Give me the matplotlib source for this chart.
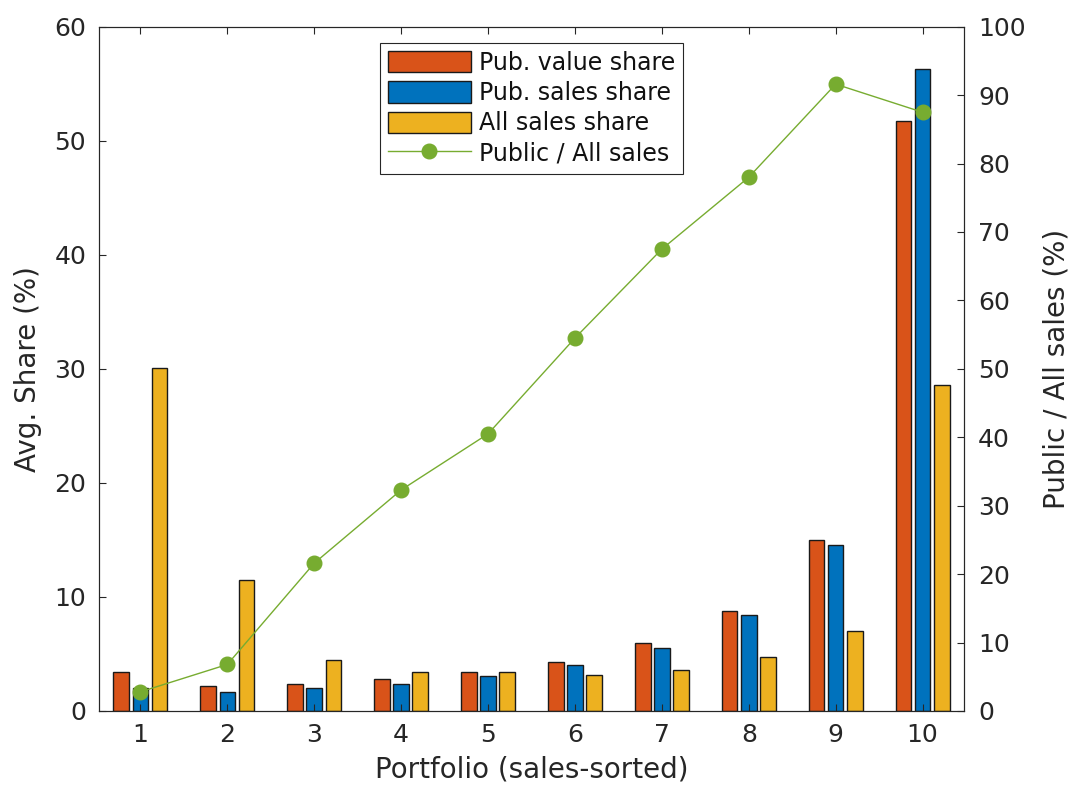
import matplotlib
matplotlib.use("Agg")
import matplotlib.pyplot as plt
import numpy as np

# Portfolio averages (sales-sorted deciles)
portfolios = np.arange(1, 11)
pub_value_share = [3.4, 2.2, 2.4, 2.8, 3.4, 4.3, 6.0, 8.8, 15.0, 51.7]
pub_sales_share = [2.0, 1.7, 2.0, 2.4, 3.1, 4.0, 5.5, 8.45, 14.55, 56.3]
all_sales_share = [30.1, 11.5, 4.45, 3.4, 3.4, 3.2, 3.6, 4.75, 7.0, 28.55]
public_to_all = [2.8, 6.8, 21.6, 32.3, 40.5, 54.5, 67.5, 78.0, 91.6, 87.5]

left_ticks = list(range(0, 61, 10))
right_ticks = list(range(0, 101, 10))

plt.rcParams["font.family"] = ["DejaVu Sans"]
ink = "#262626"

fig = plt.figure(figsize=(10.72, 7.89), dpi=100)
W, H = 1072, 789
x0, x1, y0, y1 = 98.7, 964.3, 26.7, 711.0
ax = fig.add_axes([x0 / W, 1 - y1 / H, (x1 - x0) / W, (y1 - y0) / H])

width, offset = 0.18, 0.22
edge = dict(edgecolor="#1a1a1a", linewidth=1.0)
b1 = ax.bar(portfolios - offset, pub_value_share, width, color="#D95319", **edge)
b2 = ax.bar(portfolios, pub_sales_share, width, color="#0072BD", **edge)
b3 = ax.bar(portfolios + offset, all_sales_share, width, color="#EDB120", **edge)

ax.set_xlim(0.52, 10.48)
ax.set_ylim(0, 60)
ax.set_xticks(portfolios)
ax.set_yticks(left_ticks)
ax.tick_params(direction="in", length=5, width=0.8, colors=ink, labelsize=18,
               top=True, right=False)
ax.tick_params(axis="x", pad=9)
ax.tick_params(axis="y", pad=9)
for s in ax.spines.values():
    s.set_color(ink)
    s.set_linewidth(0.8)
ax.set_xlabel("Portfolio (sales-sorted)", fontsize=20, color=ink, labelpad=6)
ax.set_ylabel("Avg. Share (%)", fontsize=20, color=ink, labelpad=9)

ax2 = ax.twinx()
ln, = ax2.plot(portfolios, public_to_all, "-o", color="#77AC30", lw=1.0,
               ms=10.5, zorder=3)
ax2.set_ylim(0, 100)
ax2.set_yticks(right_ticks)
ax2.tick_params(direction="in", length=5, width=0.8, colors=ink, labelsize=18,
                pad=10)
for s in ax2.spines.values():
    s.set_color(ink)
    s.set_linewidth(0.8)
ax2.set_ylabel("Public / All sales (%)", fontsize=20, color=ink, labelpad=12)

leg = ax2.legend([b1, b2, b3, ln],
                 ["Pub. value share", "Pub. sales share", "All sales share",
                  "Public / All sales"],
                 loc="upper center", bbox_to_anchor=(0.5, 1 - 16 / (y1 - y0)),
                 borderaxespad=0, fontsize=17, handlelength=3.5,
                 handleheight=1.0, labelspacing=0.26, handletextpad=0.35,
                 borderpad=0.35, fancybox=False, framealpha=1)
leg.get_frame().set_edgecolor(ink)
leg.get_frame().set_linewidth(0.8)
for t in leg.get_texts():
    t.set_color("#111111")

fig.savefig("out.png", dpi=100)
